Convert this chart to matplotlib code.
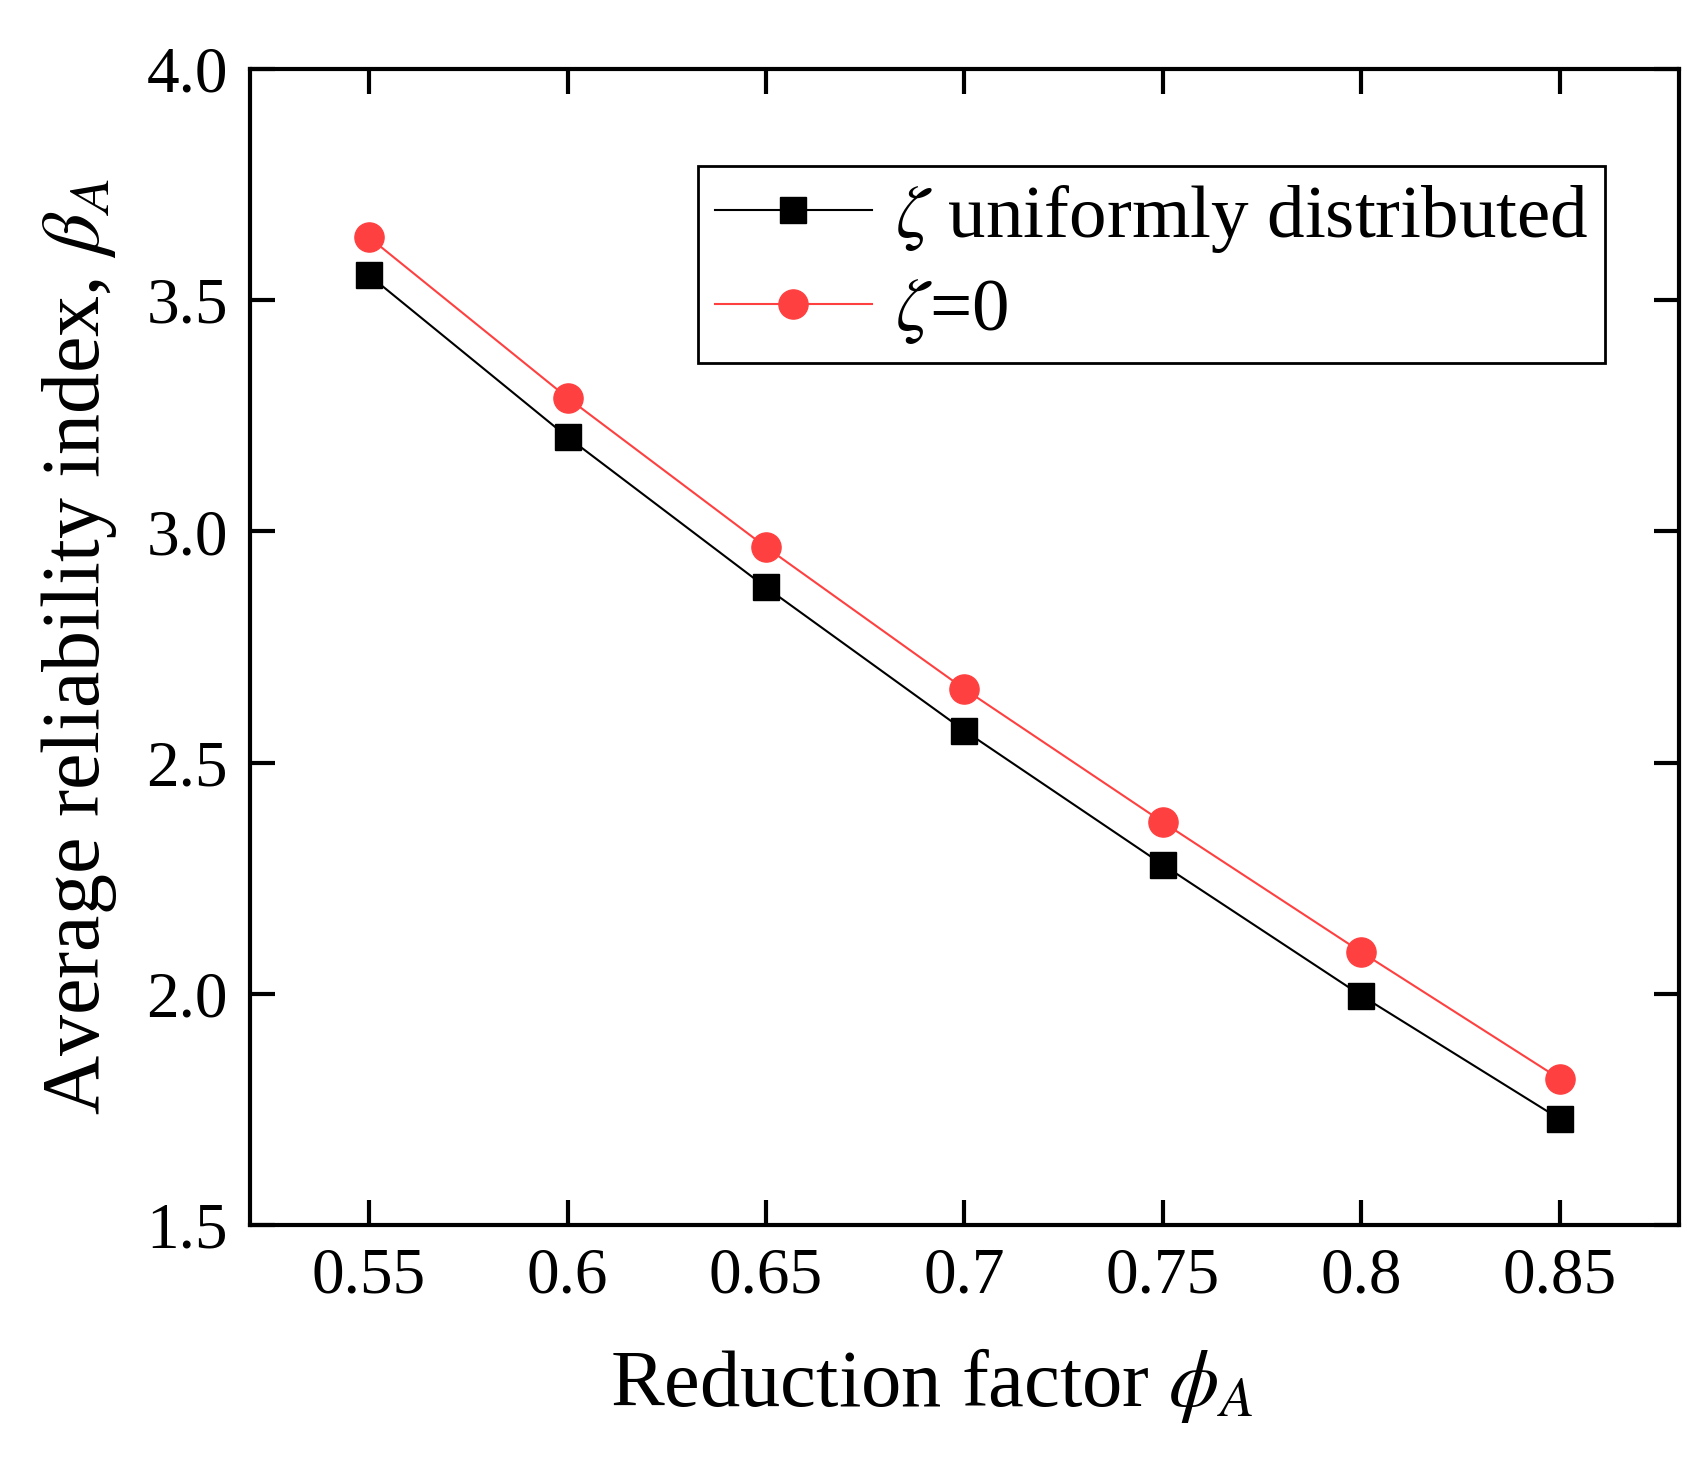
import matplotlib
matplotlib.use('Agg')
from matplotlib import pyplot as plt

# reduction factor and average reliability index
phi = [0.55, 0.60, 0.65, 0.70, 0.75, 0.80, 0.85]
beta_uniform = [3.554, 3.204, 2.879, 2.569, 2.279, 1.996, 1.729]
beta_zero = [3.636, 3.289, 2.966, 2.659, 2.371, 2.090, 1.816]

xtick_labels = ['0.55', '0.6', '0.65', '0.7', '0.75', '0.8', '0.85']
yticks = [1.5, 2.0, 2.5, 3.0, 3.5, 4.0]

plt.rcParams['font.family'] = ['Liberation Serif', 'DejaVu Serif']
plt.rcParams['mathtext.fontset'] = 'stix'

fig = plt.figure(figsize=(17.04, 14.59), dpi=100)
ax = fig.add_axes([0.1467, 0.1604, 0.8386, 0.7923])

ax.plot(phi, beta_uniform, color='black', lw=1.5, marker='s', ms=19,
        label=r'$\zeta$ uniformly distributed')
ax.plot(phi, beta_zero, color='#FF4040', lw=1.5, marker='o', ms=21,
        label=r'$\zeta$=0')

ax.set_xlim(0.52, 0.88)
ax.set_ylim(1.5, 4.0)
ax.set_xticks(phi)
ax.set_xticklabels(xtick_labels)
ax.set_yticks(yticks)
ax.set_yticklabels([f'{v:.1f}' for v in yticks])

for s in ax.spines.values():
    s.set_linewidth(3)
ax.tick_params(direction='in', length=18, width=3, labelsize=47,
               top=True, right=True, pad=16)

ax.set_xlabel(r'Reduction factor $\phi_A$', fontsize=58)
ax.xaxis.set_label_coords(0.477, -0.105)
ax.set_ylabel(r'Average reliability index, $\beta_A$', fontsize=59)
ax.yaxis.set_label_coords(-0.092, 0.5)

leg = ax.legend(loc='upper right', bbox_to_anchor=(0.948, 0.916), fontsize=54,
                fancybox=False, edgecolor='black', framealpha=1,
                handlelength=2.1, borderaxespad=0, handletextpad=0.3,
                labelspacing=0.3, borderpad=0.22)
leg.get_frame().set_linewidth(2)

fig.savefig('out.png', dpi=100)
